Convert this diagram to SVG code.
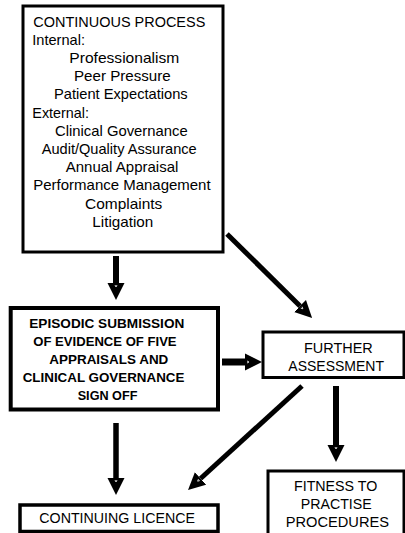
<svg xmlns="http://www.w3.org/2000/svg" width="405" height="533" viewBox="0 0 405 533">
<style>
.box{fill:#fff;stroke:#000;stroke-width:3}
.t{font-family:"Liberation Sans",Arial,sans-serif;font-size:14px;fill:#000}
.m{font-size:14.5px}
.b{font-weight:bold;font-size:13.6px}
.conn line{stroke:#000}
</style>
<defs>
<marker id="ah" markerUnits="userSpaceOnUse" markerWidth="17" markerHeight="18" viewBox="0 -9 17 18" refX="0" refY="0" orient="auto">
<path d="M0,-8.5 L17,0 L0,8.5 z" fill="#000"/>
<path d="M2,-1 L4,0 L2,1" fill="none" stroke="#fff" stroke-width="0.8"/>
</marker>
</defs>
<rect width="405" height="533" fill="#fff"/>
<g id="continuous">
<rect class="box" x="23" y="6" width="200" height="246"/>
<text class="t" x="33.3" y="26.5" textLength="172" lengthAdjust="spacingAndGlyphs">CONTINUOUS PROCESS</text>
<text class="t m" x="32.3" y="44.7" textLength="52.7" lengthAdjust="spacingAndGlyphs">Internal:</text>
<text class="t m" x="69.3" y="62.9" textLength="110" lengthAdjust="spacingAndGlyphs">Professionalism</text>
<text class="t m" x="74" y="81.1" textLength="96.7" lengthAdjust="spacingAndGlyphs">Peer Pressure</text>
<text class="t m" x="54" y="99.3" textLength="133.7" lengthAdjust="spacingAndGlyphs">Patient Expectations</text>
<text class="t m" x="32.3" y="117.5" textLength="56.7" lengthAdjust="spacingAndGlyphs">External:</text>
<text class="t m" x="55" y="135.7" textLength="132.7" lengthAdjust="spacingAndGlyphs">Clinical Governance</text>
<text class="t m" x="41.7" y="153.9" textLength="155" lengthAdjust="spacingAndGlyphs">Audit/Quality Assurance</text>
<text class="t m" x="65.7" y="172.1" textLength="112.7" lengthAdjust="spacingAndGlyphs">Annual Appraisal</text>
<text class="t m" x="33.3" y="190.3" textLength="177.3" lengthAdjust="spacingAndGlyphs">Performance Management</text>
<text class="t m" x="85" y="208.5" textLength="77.3" lengthAdjust="spacingAndGlyphs">Complaints</text>
<text class="t m" x="92.3" y="226.7" textLength="61" lengthAdjust="spacingAndGlyphs">Litigation</text>
</g>
<g id="episodic">
<rect class="box" x="10.7" y="308" width="207.3" height="101.5" style="stroke-width:4"/>
<text class="t b" x="29.3" y="328" textLength="155" lengthAdjust="spacingAndGlyphs">EPISODIC SUBMISSION</text>
<text class="t b" x="33.3" y="346" textLength="143.3" lengthAdjust="spacingAndGlyphs">OF EVIDENCE OF FIVE</text>
<text class="t b" x="49.3" y="364" textLength="119" lengthAdjust="spacingAndGlyphs">APPRAISALS AND</text>
<text class="t b" x="22.7" y="382" textLength="161.7" lengthAdjust="spacingAndGlyphs">CLINICAL GOVERNANCE</text>
<text class="t b" x="77.7" y="400" textLength="59.7" lengthAdjust="spacingAndGlyphs">SIGN OFF</text>
</g>
<g id="further">
<rect class="box" x="263" y="332" width="141" height="45.5"/>
<text class="t" x="304" y="353" textLength="68.7" lengthAdjust="spacingAndGlyphs">FURTHER</text>
<text class="t" x="288.3" y="371" textLength="95.7" lengthAdjust="spacingAndGlyphs">ASSESSMENT</text>
</g>
<g id="fitness">
<rect class="box" x="268" y="471" width="136" height="70"/>
<text class="t" x="294" y="491" textLength="83.3" lengthAdjust="spacingAndGlyphs">FITNESS TO</text>
<text class="t" x="300.7" y="509" textLength="71" lengthAdjust="spacingAndGlyphs">PRACTISE</text>
<text class="t" x="285.7" y="527" textLength="103.3" lengthAdjust="spacingAndGlyphs">PROCEDURES</text>
</g>
<g id="continuing">
<rect class="box" x="20" y="505" width="198" height="26.5" style="stroke-width:3.5"/>
<text class="t" x="39.3" y="523" textLength="155.7" lengthAdjust="spacingAndGlyphs">CONTINUING LICENCE</text>
</g>
<g class="conn">
<line x1="116" y1="256" x2="116" y2="283" stroke-width="6" marker-end="url(#ah)"/>
<line x1="227" y1="234" x2="300" y2="306" stroke-width="5" marker-end="url(#ah)"/>
<line x1="222" y1="362" x2="245" y2="362" stroke-width="7" marker-end="url(#ah)"/>
<line x1="116" y1="423" x2="116" y2="478" stroke-width="5.5" marker-end="url(#ah)"/>
<line x1="302" y1="386" x2="200.6" y2="478.5" stroke-width="5" marker-end="url(#ah)"/>
<line x1="336" y1="386" x2="336" y2="445" stroke-width="6" marker-end="url(#ah)"/>
</g>
</svg>
